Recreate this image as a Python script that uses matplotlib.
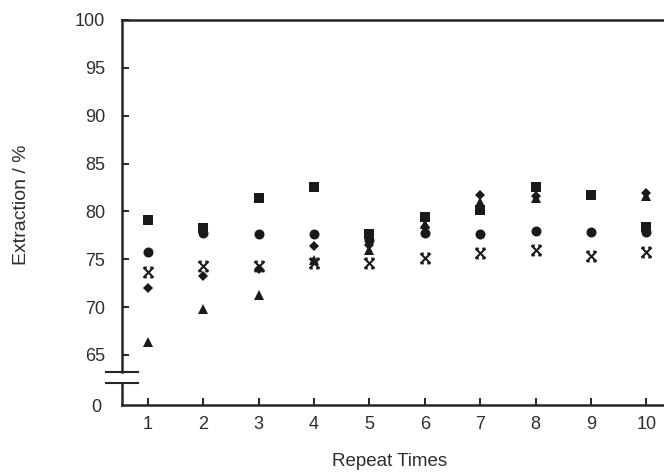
import matplotlib
matplotlib.use("Agg")
import matplotlib.pyplot as plt
from matplotlib.path import Path
from matplotlib.lines import Line2D

plt.rcParams['font.family'] = ['Liberation Sans', 'DejaVu Sans']

repeat = [1, 2, 3, 4, 5, 6, 7, 8, 9, 10]
s_square = [79.1, 78.3, 81.4, 82.5, 77.6, 79.4, 80.1, 82.5, 81.7, 78.4]
s_circle = [75.8, 77.7, 77.6, 77.6, 77.0, 77.7, 77.6, 78.0, 77.9, 77.9]
s_diamond = [72.0, 73.2, 74.0, 76.4, 76.5, 78.4, 81.7, 81.6, 81.7, 81.9]
s_triangle = [66.4, 69.8, 71.3, 74.9, 76.0, 78.7, 81.0, 81.4, 81.7, 81.6]
s_cross = [73.7, 74.3, 74.3, 74.6, 74.6, 75.1, 75.7, 76.0, 75.3, 75.8]

yticks_upper = [65, 70, 75, 80, 85, 90, 95, 100]
yticks_lower = [0]

W, H = 664, 474
fig = plt.figure(figsize=(W / 100, H / 100), dpi=100)

ink = '#1a1a1a'
txt = '#2e2e2e'
axc = '#262626'

# upper axes (65-100)
ax = fig.add_axes([122 / W, (H - 372) / H, 1 - 122 / W, (372 - 20) / H])
ax.set_xlim(0.53, 10.32)
ax.set_ylim(63.22, 100)
for sp in ['right', 'bottom']:
    ax.spines[sp].set_visible(False)
for sp in ['left', 'top']:
    ax.spines[sp].set_linewidth(1.8)
    ax.spines[sp].set_color(axc)
ax.set_yticks(yticks_upper)
ax.set_xticks([])
ax.tick_params(axis='y', direction='in', length=5, width=1.4, pad=12,
               labelsize=13, labelcolor=txt, color=axc)

# cross marker with caps
cross_path = Path(
    [(-1, -1), (1, 1), (-1, 1), (1, -1),
     (-1, 1), (-0.35, 1), (0.35, 1), (1, 1),
     (-1, -1), (-0.35, -1), (0.35, -1), (1, -1)],
    [Path.MOVETO, Path.LINETO, Path.MOVETO, Path.LINETO,
     Path.MOVETO, Path.LINETO, Path.MOVETO, Path.LINETO,
     Path.MOVETO, Path.LINETO, Path.MOVETO, Path.LINETO])

ax.plot(repeat, s_cross, linestyle='none', marker=cross_path, markersize=7,
        markeredgewidth=1.5, color=ink, clip_on=False)
ax.plot(repeat, s_triangle, linestyle='none', marker='^', markersize=7.5,
        color=ink, markeredgewidth=0, clip_on=False)
ax.plot(repeat, s_diamond, linestyle='none', marker='D', markersize=4.8,
        color=ink, markeredgewidth=0, clip_on=False)
ax.plot(repeat, s_circle, linestyle='none', marker='o', markersize=7.2,
        color=ink, markeredgewidth=0, clip_on=False)
ax.plot(repeat, s_square, linestyle='none', marker='s', markersize=7,
        color=ink, markeredgewidth=0, clip_on=False)

# lower axes (0)
ax2 = fig.add_axes([122 / W, (H - 405) / H, 1 - 122 / W, (405 - 383) / H])
ax2.set_xlim(0.53, 10.32)
ax2.set_ylim(0, 22 / 9.571)
for sp in ['right', 'top']:
    ax2.spines[sp].set_visible(False)
for sp in ['left', 'bottom']:
    ax2.spines[sp].set_linewidth(1.8)
    ax2.spines[sp].set_color(axc)
ax2.set_yticks(yticks_lower)
ax2.set_xticks(repeat)
ax2.tick_params(axis='y', length=0, pad=15, labelsize=13, labelcolor=txt)
ax2.tick_params(axis='x', direction='in', length=5, width=1.4, pad=8,
                labelsize=13, labelcolor=txt, color=axc)
ax2.patch.set_alpha(0)

# axis break marks
for yb in [372, 383]:
    fig.add_artist(Line2D([106 / W, 138 / W], [(H - yb) / H, (H - yb) / H],
                          transform=fig.transFigure, color=axc, lw=1.5))

fig.text(390 / W, (H - 462) / H, 'Repeat Times', ha='center', va='center',
         fontsize=13.5, color=txt)
fig.text(22 / W, (H - 205) / H, 'Extraction / %', ha='center', va='center',
         rotation=90, fontsize=14, color=txt)

fig.savefig('out.png', dpi=100)
